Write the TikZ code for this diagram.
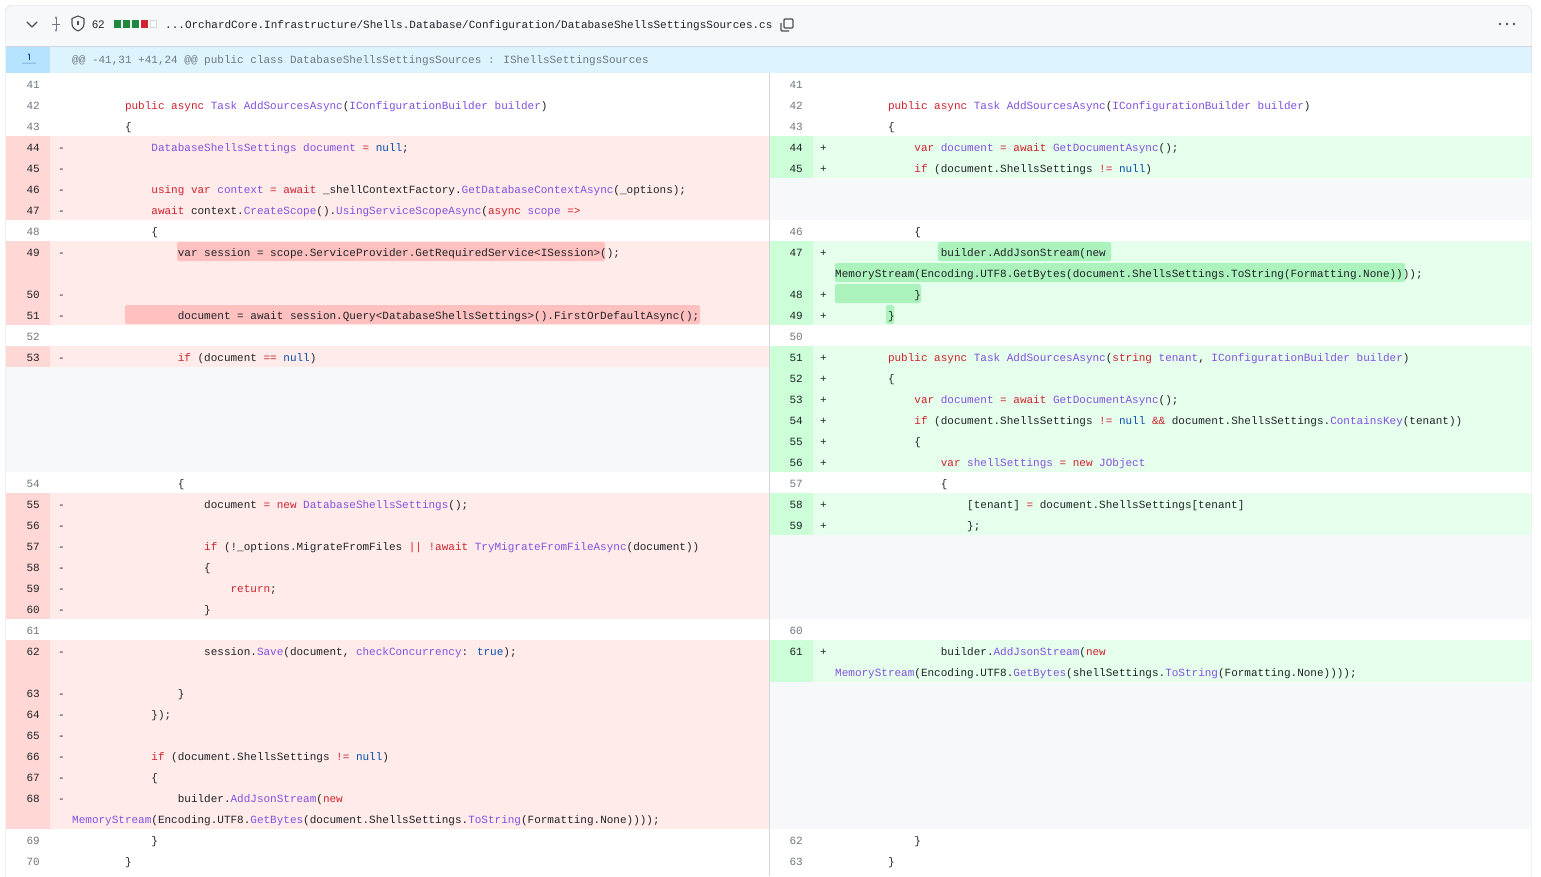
\documentclass[tikz,border=0pt]{standalone}
\usetikzlibrary{arrows.meta}
\usepackage{fontspec}
\setmainfont{Liberation Sans}
\newfontfamily\cmono{Liberation Mono}
\definecolor{txt}{HTML}{1F2328}
\definecolor{gtxt}{HTML}{6E7781}
\definecolor{ckwc}{HTML}{CF222E}
\definecolor{ctyc}{HTML}{8250DF}
\definecolor{cnlc}{HTML}{0550AE}
\definecolor{delbg}{HTML}{FFEBE9}
\definecolor{delnum}{HTML}{FFD7D5}
\definecolor{delhl}{HTML}{FFC0C0}
\definecolor{addbg}{HTML}{E6FFEC}
\definecolor{addnum}{HTML}{CCFFD8}
\definecolor{addhl}{HTML}{ABF2BC}
\definecolor{graybg}{HTML}{F6F8FA}
\definecolor{bord}{HTML}{D0D7DE}
\definecolor{hunkbg}{HTML}{DDF4FF}
\definecolor{hunknum}{HTML}{B6E3FF}
\definecolor{grn}{HTML}{1F883D}
\definecolor{red}{HTML}{CF222E}
\newcommand{\ckw}[1]{\textcolor{ckwc}{#1}}
\newcommand{\cty}[1]{\textcolor{ctyc}{#1}}
\newcommand{\cnl}[1]{\textcolor{cnlc}{#1}}
\tikzset{code/.style={anchor=base west,inner sep=0pt,font=\cmono\fontsize{11}{13}\selectfont,text=txt},
 num/.style={anchor=base east,inner sep=0pt,font=\cmono\fontsize{11}{13}\selectfont,text=gtxt},
 numd/.style={num,text=txt}}
\newcommand{\cln}[4]{\node[code] at ({#1+6.6*#2},{88+21*#3}) {#4};}
\newcommand{\rf}[5]{\fill[#5] (#1,{73+21*#3}) rectangle (#2,{94+21*#4});}
\newcommand{\hl}[5]{\fill[#5,rounded corners=2pt] (#1,{74+21*#3}) rectangle (#2,{93+21*#4});}
\begin{document}
\begin{tikzpicture}[x=1pt,y=-1pt]
\useasboundingbox (0,0) rectangle (1541,876);
\fill[white] (0,0) rectangle (1541,876);
% header
\fill[graybg,rounded corners=6pt] (5.5,5.5) rectangle (1531.5,60);
\fill[graybg] (5.5,30) rectangle (1531.5,46);
\fill[hunkbg] (5.5,46) rectangle (1531.5,73);
\fill[hunknum] (5.5,46) rectangle (50,73);
% row fills
\foreach \a/\b in {3/6,8/11,13/13,20/25,27/35}{\rf{6}{50}{\a}{\b}{delnum}\rf{50}{769}{\a}{\b}{delbg}}
\rf{6}{769}{14}{18}{graybg}
\foreach \a/\b in {3/4,8/11,13/18,20/21,27/28}{\rf{770}{813}{\a}{\b}{addnum}\rf{813}{1531}{\a}{\b}{addbg}}
\foreach \a/\b in {5/6,22/25,29/35}{\rf{770}{1531}{\a}{\b}{graybg}}
% highlights
\hl{177}{605}{8}{8}{delhl}
\hl{125}{700}{11}{11}{delhl}
\hl{938}{1111}{8}{8}{addhl}
\hl{835}{1405}{9}{9}{addhl}
\hl{835}{921}{10}{10}{addhl}
\hl{886}{894}{11}{11}{addhl}
% borders
\draw[bord,rounded corners=6pt] (5.5,880) -- (5.5,5.5) -- (1531.5,5.5) -- (1531.5,880);
\draw[bord] (5.5,46) -- (1531.5,46);
\draw[bord] (769.5,73) -- (769.5,876);
% header icons
\draw[txt!80,line width=1.2pt,line cap=round,line join=round] (27,22) -- (32,27) -- (37,22);
\draw[gtxt,line width=1pt,-{Stealth[length=3pt]}] (56,24) -- (56,16);
\draw[gtxt,line width=1pt,-{Stealth[length=3pt]}] (56,24) -- (56,32);
\draw[gtxt,line width=1pt] (52,24) -- (60,24);
\draw[txt!80,line width=1.1pt,line join=round] (78,16) -- (84,18.5) -- (84,24) .. controls (84,28) and (80,30) .. (78,31) .. controls (76,30) and (72,28) .. (72,24) -- (72,18.5) -- cycle;
\draw[txt!80,line width=1.1pt] (78,21) -- (78,25);
\node[anchor=base west,inner sep=0pt,font=\fontsize{11}{13}\selectfont,text=txt] (cnt) at (92,28) {62};
\foreach \i/\c in {0/grn,1/grn,2/grn,3/red}{\fill[\c] ({114+9*\i},20) rectangle ({121+9*\i},28);}
\draw[bord,fill=white] (150.5,20.5) rectangle (156.5,27.5);
\node[code] (path) at (165,28) {...OrchardCore.Infrastructure/Shells.Database/Configuration/DatabaseShellsSettingsSources.cs};
\draw[txt!80,line width=1.1pt,rounded corners=1pt] (784,19) rectangle (793,28);
\draw[txt!80,line width=1.1pt,rounded corners=1pt] (781,23) -- (781,31) -- (789,31);
\foreach \x in {1500,1507,1514}{\fill[txt!80] (\x,24) circle (1.4pt);}
% hunk
\draw[cnlc!80!black,line width=0.9pt,-{Stealth[length=2.5pt]}] (29,60) -- (29,53);
\foreach \x in {23,25,27,29,31,33,35}{\fill[cnlc!80!black] (\x,63) circle (0.5pt);}
\node[code,text=gtxt] (hunk) at (72,63.5) {@@ -41,31 +41,24 @@ public class DatabaseShellsSettingsSources : IShellsSettingsSources};
% left numbers
\foreach \n/\r in {41/0,42/1,43/2,52/12,54/19,61/26,69/36,70/37,48/7}{\node[num] at (40,{88+21*\r}) {\n};}
\foreach \n/\r in {44/3,45/4,46/5,47/6,49/8,50/10,51/11,53/13,55/20,56/21,57/22,58/23,59/24,60/25,62/27,63/29,64/30,65/31,66/32,67/33,68/34}{\node[numd] at (40,{88+21*\r}) {\n}; \node[code] at (58,{88+21*\r}) {-};}
% right numbers
\foreach \n/\r in {41/0,42/1,43/2,46/7,50/12,57/19,60/26,62/36,63/37}{\node[num] at (803,{88+21*\r}) {\n};}
\foreach \n/\r in {44/3,45/4,47/8,48/10,49/11,51/13,52/14,53/15,54/16,55/17,56/18,58/20,59/21,61/27}{\node[numd] at (803,{88+21*\r}) {\n}; \node[code] at (820,{88+21*\r}) {+};}
% left code
\def\L{72}
\cln{\L}{8}{1}{\ckw{public} \ckw{async} \cty{Task} \cty{AddSourcesAsync}(\cty{IConfigurationBuilder} \cty{builder})}
\cln{\L}{8}{2}{\{}
\cln{\L}{12}{3}{\cty{DatabaseShellsSettings} \cty{document} \ckw{=} \cnl{null};}
\cln{\L}{12}{5}{\ckw{using} \ckw{var} \cty{context} \ckw{=} \ckw{await} \_shellContextFactory.\cty{GetDatabaseContextAsync}(\_options);}
\cln{\L}{12}{6}{\ckw{await} context.\cty{CreateScope}().\cty{UsingServiceScopeAsync}(\ckw{async} \cty{scope} \ckw{=>}}
\cln{\L}{12}{7}{\{}
\cln{\L}{16}{8}{var session = scope.ServiceProvider.GetRequiredService<ISession>();}
\cln{\L}{16}{11}{document = await session.Query<DatabaseShellsSettings>().FirstOrDefaultAsync();}
\cln{\L}{16}{13}{\ckw{if} (document \ckw{==} \cnl{null})}
\cln{\L}{16}{19}{\{}
\cln{\L}{20}{20}{document \ckw{=} \ckw{new} \cty{DatabaseShellsSettings}();}
\cln{\L}{20}{22}{\ckw{if} (!\_options.MigrateFromFiles \ckw{||} \ckw{!await} \cty{TryMigrateFromFileAsync}(document))}
\cln{\L}{20}{23}{\{}
\cln{\L}{24}{24}{\ckw{return};}
\cln{\L}{20}{25}{\}}
\cln{\L}{20}{27}{session.\cty{Save}(document, \cty{checkConcurrency}: \cnl{true});}
\cln{\L}{16}{29}{\}}
\cln{\L}{12}{30}{\});}
\cln{\L}{12}{32}{\ckw{if} (document.ShellsSettings \ckw{!=} \cnl{null})}
\cln{\L}{12}{33}{\{}
\cln{\L}{16}{34}{builder.\cty{AddJsonStream}(\ckw{new}}
\cln{\L}{0}{35}{\cty{MemoryStream}(Encoding.UTF8.\cty{GetBytes}(document.ShellsSettings.\cty{ToString}(Formatting.None))));}
\cln{\L}{12}{36}{\}}
\cln{\L}{8}{37}{\}}
% right code
\def\R{835}
\cln{\R}{8}{1}{\ckw{public} \ckw{async} \cty{Task} \cty{AddSourcesAsync}(\cty{IConfigurationBuilder} \cty{builder})}
\cln{\R}{8}{2}{\{}
\cln{\R}{12}{3}{\ckw{var} \cty{document} \ckw{=} \ckw{await} \cty{GetDocumentAsync}();}
\cln{\R}{12}{4}{\ckw{if} (document.ShellsSettings \ckw{!=} \cnl{null})}
\cln{\R}{12}{7}{\{}
\cln{\R}{16}{8}{builder.AddJsonStream(new}
\cln{\R}{0}{9}{MemoryStream(Encoding.UTF8.GetBytes(document.ShellsSettings.ToString(Formatting.None))));}
\cln{\R}{12}{10}{\}}
\cln{\R}{8}{11}{\}}
\cln{\R}{8}{13}{\ckw{public} \ckw{async} \cty{Task} \cty{AddSourcesAsync}(\ckw{string} \cty{tenant}, \cty{IConfigurationBuilder} \cty{builder})}
\cln{\R}{8}{14}{\{}
\cln{\R}{12}{15}{\ckw{var} \cty{document} \ckw{=} \ckw{await} \cty{GetDocumentAsync}();}
\cln{\R}{12}{16}{\ckw{if} (document.ShellsSettings \ckw{!=} \cnl{null} \ckw{\&\&} document.ShellsSettings.\cty{ContainsKey}(tenant))}
\cln{\R}{12}{17}{\{}
\cln{\R}{16}{18}{\ckw{var} \cty{shellSettings} \ckw{=} \ckw{new} \cty{JObject}}
\cln{\R}{16}{19}{\{}
\cln{\R}{20}{20}{[tenant] \ckw{=} document.ShellsSettings[tenant]}
\cln{\R}{20}{21}{\};}
\cln{\R}{16}{27}{builder.\cty{AddJsonStream}(\ckw{new}}
\cln{\R}{0}{28}{\cty{MemoryStream}(Encoding.UTF8.\cty{GetBytes}(shellSettings.\cty{ToString}(Formatting.None))));}
\cln{\R}{12}{36}{\}}
\cln{\R}{8}{37}{\}}
\end{tikzpicture}
\end{document}
